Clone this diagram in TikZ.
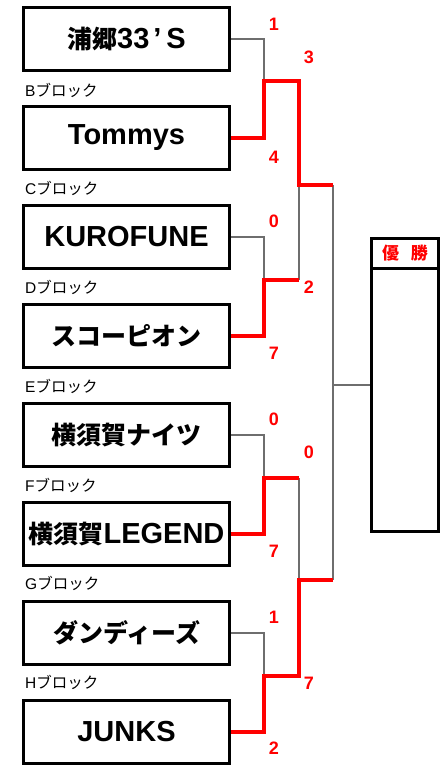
\documentclass[tikz,border=0pt]{standalone}
\usepackage{fontspec}
\setmainfont{Liberation Sans}
\newfontfamily\jpfont{Noto Sans CJK JP}
\usetikzlibrary{positioning}
\definecolor{ScoreRed}{HTML}{FF0000}
\definecolor{LineGray}{HTML}{6E6E6E}
\newcommand{\jpname}[1]{{\jpfont\fontsize{25}{25}\selectfont #1}}
\newcommand{\jpblk}[1]{{\jpfont #1}}

\begin{document}
\begin{tikzpicture}[
      x=1pt, y=-1pt,
      team/.style={draw, line width=3pt, minimum width=206pt, minimum height=63pt,
        inner sep=0pt, font=\fontsize{29}{29}\selectfont\bfseries},
      champbox/.style={draw, line width=3pt, minimum width=67pt, inner sep=0pt},
      blk/.style={anchor=west, inner sep=0pt, font=\fontsize{15.5}{15.5}\selectfont},
      score/.style={text=ScoreRed, inner sep=0pt, font=\fontsize{18}{18}\selectfont\bfseries},
      lose/.style={LineGray, line width=1.3pt},
      win/.style={ScoreRed, line width=3.4pt}
    ]
      \useasboundingbox (0,0) rectangle (447,765);
      % teams
      \node[team] (ta) at (126.5,39) {\jpname{浦郷}33\hspace{4pt}’\hspace{5pt}S};
      \node[team, below=33pt of ta] (tb) {Tommys};
      \node[team, below=33pt of tb] (tc) {KUROFUNE};
      \node[team, below=33pt of tc] (td) {\jpname{スコーピオン}};
      \node[team, below=33pt of td] (te) {\jpname{横須賀ナイツ}};
      \node[team, below=33pt of te] (tf) {\jpname{横須賀}LEGEND};
      \node[team, below=33pt of tf] (tg) {\jpname{ダンディーズ}};
      \node[team, below=33pt of tg] (th) {JUNKS};
      % block labels
      \node[blk] (lb) at (25,90) {B\jpblk{ブロック}};
      \node[blk] (lc) at (25,188) {C\jpblk{ブロック}};
      \node[blk] (ld) at (25,287) {D\jpblk{ブロック}};
      \node[blk] (le) at (25,386) {E\jpblk{ブロック}};
      \node[blk] (lf) at (25,485) {F\jpblk{ブロック}};
      \node[blk] (lg) at (25,583) {G\jpblk{ブロック}};
      \node[blk] (lh) at (25,682) {H\jpblk{ブロック}};
      % champion
      \node[champbox, minimum height=293pt] (champ) at (405,385) {};
      \node[champbox, minimum height=30pt, anchor=north, text=ScoreRed,
        font=\jpfont\fontsize{17}{17}\selectfont\bfseries] (cap) at (champ.north) {優\hspace{12pt}勝};
      % junctions
      \coordinate (j1) at (264,81);  \coordinate (k1) at (299,81);
      \coordinate (j2) at (264,280); \coordinate (k2) at (299,280);
      \coordinate (j3) at (264,478); \coordinate (k3) at (299,478);
      \coordinate (j4) at (264,676); \coordinate (k4) at (299,676);
      \coordinate (f1) at (333,185); \coordinate (f2) at (333,580);
      % losing lines
      \draw[lose] (ta.east) -| (j1);
      \draw[lose] (tc.east) -| (j2);
      \draw[lose] (te.east) -| (j3);
      \draw[lose] (tg.east) -| (j4);
      \draw[lose] (k2) -- (k2 |- f1);
      \draw[lose] (k3) -- (k3 |- f2);
      \draw[lose] (f1) -- (f2);
      \draw[lose] (f1 |- champ.west) -- (champ.west);
      % winning lines
      \draw[win] (tb.east) -| (j1) -- (k1) |- (f1);
      \draw[win] (td.east) -| (j2) -- (k2);
      \draw[win] (tf.east) -| (j3) -- (k3);
      \draw[win] (th.east) -| (j4) -- (k4) |- (f2);
      % scores
      \node[score] (sa) at (274,24) {1};
      \node[score] (sb) at (274,157) {4};
      \node[score] (sab) at (309,57) {3};
      \node[score] (scd) at (309,287) {2};
      \node[score] (sc) at (274,221) {0};
      \node[score] (sd) at (274,353) {7};
      \node[score] (se) at (274,419) {0};
      \node[score] (sf) at (274,551) {7};
      \node[score] (sef) at (309,452) {0};
      \node[score] (sgh) at (309,683) {7};
      \node[score] (sg) at (274,617) {1};
      \node[score] (sh) at (274,748) {2};
    \end{tikzpicture}
\end{document}
